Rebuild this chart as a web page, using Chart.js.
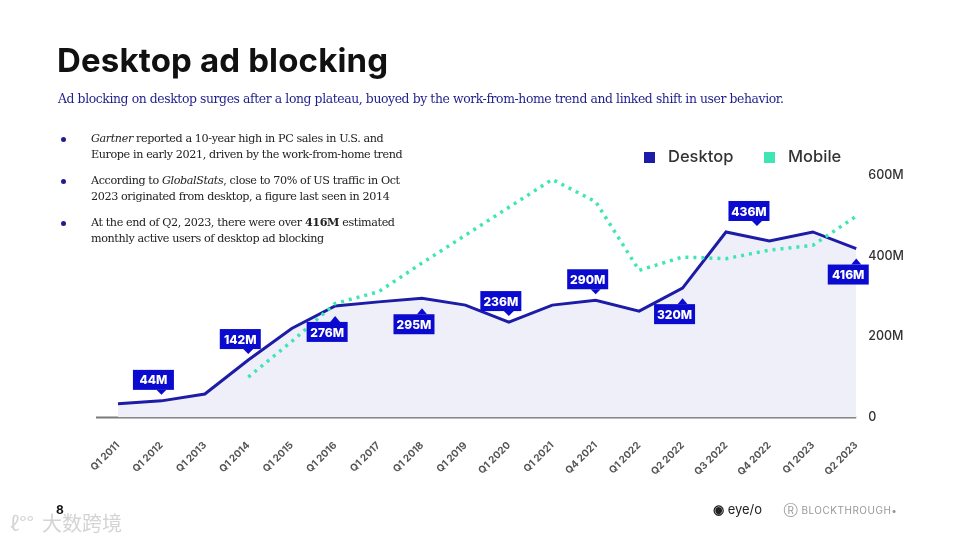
<!DOCTYPE html>
<html lang="en">

<head>
    <meta charset="UTF-8">
    <title>Desktop ad blocking</title>
    <script src="https://cdn.jsdelivr.net/npm/chart.js"></script>
    <style>
        body { margin: 0; background: #fff; }
        .page { position: relative; width: 960px; height: 540px; overflow: hidden; font-family: "DejaVu Serif", serif; }
        #chart { position: absolute; left: 0; top: 0; }
        .title { position: absolute; left: 57px; top: 40px; font: 700 33px Inter, sans-serif; color: #111; letter-spacing: 0.15px; }
        .subtitle { position: absolute; left: 58px; top: 91px; font: 12.4px "DejaVu Serif", serif; color: #1f1f8c; letter-spacing: -0.4px; white-space: nowrap; }
        .bullets { position: absolute; left: 58px; top: 131px; font: 11.2px "DejaVu Serif", serif; color: #222; letter-spacing: -0.4px; line-height: 15.5px; white-space: nowrap; }
        .bullets div { position: relative; padding-left: 33px; margin-bottom: 11px; }
        .bullets div::before { content: ""; position: absolute; left: 3px; top: 6px; width: 5px; height: 5px; border-radius: 50%; background: #1f1f8c; }
        .legend { position: absolute; top: 146px; font: 500 16.5px Inter, sans-serif; color: #333; }
        .legend span.sw { display: inline-block; width: 11px; height: 11px; margin-right: 13px; vertical-align: -1px; }
        .pg { position: absolute; left: 56px; top: 502px; font: 700 12px Inter, sans-serif; color: #111; }
        .wm { position: absolute; left: 10px; top: 508px; font: 20px "Noto Sans CJK SC", sans-serif; color: #d4d4d4; }
        .wm span { margin-left: 8px; }
        .logos { position: absolute; left: 713px; top: 501px; font: 13px Inter, sans-serif; color: #222; white-space: nowrap; }
        .logos .bt { color: #999; font-size: 10px; letter-spacing: 0.5px; margin-left: 18px; }
    </style>
</head>

<body>
    <div class="page">
        <canvas id="chart" width="960" height="540"></canvas>
        <div class="title">Desktop ad blocking</div>
        <div class="subtitle">Ad blocking on desktop surges after a long plateau, buoyed by the work-from-home trend and linked shift in user behavior.</div>
        <div class="bullets">
            <div><i>Gartner</i> reported a 10-year high in PC sales in U.S. and<br>Europe in early 2021, driven by the work-from-home trend</div>
            <div>According to <i>GlobalStats</i>, close to 70% of US traffic in Oct<br>2023 originated from desktop, a figure last seen in 2014</div>
            <div>At the end of Q2, 2023, there were over <b>416M</b> estimated<br>monthly active users of desktop ad blocking</div>
        </div>
        <div class="legend" style="left:644px"><span class="sw" style="background:#1c1ca6"></span>Desktop</div>
        <div class="legend" style="left:764px"><span class="sw" style="background:#3ee6b5"></span>Mobile</div>
        <div class="wm">ℓ°°<span>大数跨境</span></div>
        <div class="pg">8</div>
        <div class="logos"><b>&#9673;</b> eye/o <span class="bt">&#9415; BLOCKTHROUGH&#8226;</span></div>
    </div>
    <script>
        const categories = ["Q1 2011", "Q1 2012", "Q1 2013", "Q1 2014", "Q1 2015", "Q1 2016", "Q1 2017",
            "Q1 2018", "Q1 2019", "Q1 2020", "Q1 2021", "Q4 2021", "Q1 2022", "Q2 2022", "Q3 2022",
            "Q4 2022", "Q1 2023", "Q2 2023"];
        // millions of monthly active users
        const desktop = [34, 41, 58, 142, 220, 276, 286, 295, 278, 236, 278, 290, 263, 320, 459, 437, 459, 418];
        const mobile = [null, null, null, 100, 188, 282, 311, 382, 451, 520, 589, 534, 364, 397, 393, 414, 426, 498];
        const yTicks = [0, 200, 400, 600];
        // callout text per point (null = no callout)
        const callouts = [null, "44M", null, "142M", null, "276M", null, "295M", null, "236M", null, "290M",
            null, "320M", "436M", null, null, "416M"];
        // where each callout sits: "up" above the line, "down" below it
        const calloutSide = [null, "up", null, "up", null, "down", null, "down", null, "up", null, "up",
            null, "down", "up", null, null, "down"];
        const calloutShift = { 14: 31 };

        const calloutPlugin = {
            id: "callouts",
            beforeDatasetsDraw(chart) {
                // baseline, runs a little past the first point
                const { ctx, chartArea, scales } = chart;
                const y0 = scales.y.getPixelForValue(0);
                ctx.save();
                ctx.strokeStyle = "#7a7a7a";
                ctx.lineWidth = 2;
                ctx.beginPath();
                ctx.moveTo(chartArea.left - 22, y0);
                ctx.lineTo(chartArea.right, y0);
                ctx.stroke();
                ctx.restore();
            },
            afterDatasetsDraw(chart) {
                const { ctx, scales } = chart;
                ctx.save();
                ctx.font = "800 12px Inter, sans-serif";
                ctx.textAlign = "center";
                ctx.textBaseline = "middle";
                callouts.forEach((txt, i) => {
                    if (!txt) return;
                    const px = scales.x.getPixelForValue(i) + (calloutShift[i] || 0);
                    const py = scales.y.getPixelForValue(desktop[i]);
                    const w = 41, h = 20, cx = px - 8;
                    let tip, top;
                    if (calloutSide[i] === "up") {
                        tip = py - 6;
                        top = tip - 5 - h;
                    } else {
                        tip = py + 10;
                        top = tip + 6;
                    }
                    ctx.fillStyle = "#0b0bd0";
                    ctx.fillRect(cx - w / 2, top, w, h);
                    ctx.beginPath();
                    if (calloutSide[i] === "up") {
                        ctx.moveTo(px - 5, top + h);
                        ctx.lineTo(px, tip);
                        ctx.lineTo(px + 5, top + h);
                    } else {
                        ctx.moveTo(px - 5, top);
                        ctx.lineTo(px, tip);
                        ctx.lineTo(px + 5, top);
                    }
                    ctx.fill();
                    ctx.fillStyle = "#fff";
                    ctx.fillText(txt, cx, top + h / 2 + 1);
                });
                ctx.restore();
            }
        };

        new Chart(document.getElementById("chart"), {
            type: "line",
            data: {
                labels: categories,
                datasets: [
                    {
                        label: "Desktop",
                        data: desktop,
                        borderColor: "#1c1ca6",
                        backgroundColor: "#efeffa",
                        borderWidth: 3,
                        fill: "origin",
                        pointRadius: 0,
                        tension: 0,
                        order: 2
                    },
                    {
                        label: "Mobile",
                        data: mobile,
                        borderColor: "#3ee6b5",
                        borderWidth: 3.5,
                        borderDash: [3, 5],
                        fill: false,
                        pointRadius: 0,
                        tension: 0,
                        order: 1
                    }
                ]
            },
            options: {
                responsive: false,
                animation: false,
                layout: { padding: { left: 118, right: 44, top: 175, bottom: 40 } },
                plugins: { legend: { display: false }, tooltip: { enabled: false } },
                scales: {
                    x: {
                        offset: false,
                        grid: { display: false, drawTicks: false },
                        border: { display: false },
                        ticks: {
                            minRotation: 45, maxRotation: 45, padding: 22,
                            color: "#555", font: { family: "Inter", size: 10, weight: "700" }
                        }
                    },
                    y: {
                        position: "right",
                        min: 0, max: 600,
                        afterBuildTicks: (axis) => { axis.ticks = yTicks.map(v => ({ value: v })); },
                        grid: { display: false, drawTicks: false },
                        border: { display: false },
                        ticks: {
                            padding: 12, color: "#333",
                            font: { family: "Inter", size: 12.5, weight: "500" },
                            callback: (v) => v === 0 ? "0" : v + "M"
                        }
                    }
                }
            },
            plugins: [calloutPlugin]
        });
    </script>
</body>

</html>
